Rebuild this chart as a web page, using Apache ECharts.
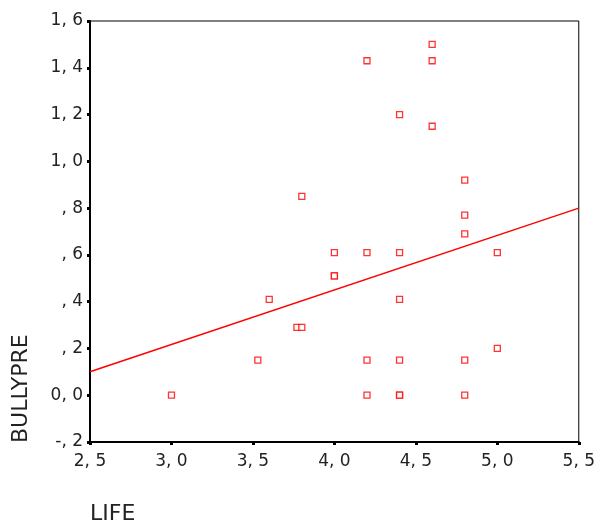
<!DOCTYPE html>
<html>
<head>
<meta charset="utf-8">
<script src="https://cdn.jsdelivr.net/npm/echarts@6/dist/echarts.min.js"></script>
<style>
  html, body { margin: 0; padding: 0; background: #fff; }
  #main { width: 598px; height: 525px; }
</style>
</head>
<body>
<div id="main"></div>
<script>
// LIFE (x) and BULLYPRE (y) for each case
var lifeValues  = [4.6, 4.2, 4.6, 4.4, 4.6, 4.8, 3.8, 4.8, 4.8, 4.0, 4.2, 4.4, 5.0, 4.0, 4.0,
                   3.6, 4.4, 3.77, 3.8, 3.53, 4.2, 4.4, 4.8, 5.0, 3.0, 4.2, 4.4, 4.4, 4.8];
var bullyValues = [1.50, 1.43, 1.43, 1.20, 1.15, 0.92, 0.85, 0.77, 0.69, 0.61, 0.61, 0.61, 0.61, 0.51, 0.51,
                   0.41, 0.41, 0.29, 0.29, 0.15, 0.15, 0.15, 0.15, 0.20, 0.00, 0.00, 0.00, 0.00, 0.00];
// fitted line, read at both ends of the x axis
var fitX = [2.5, 5.5];
var fitY = [0.10, 0.80];

var xTicks = { min: 2.5, max: 5.5, step: 0.5 };
var yTicks = { min: -0.2, max: 1.6, step: 0.2 };

function spssNum(v) {
  var s = Math.abs(v).toFixed(1).split(".");
  var i = s[0];
  if (i === "0" && Math.abs(v) > 1e-9) i = "";
  return (v < -1e-9 ? "-" : "") + i + ", " + s[1];
}

var points = [];
for (var i = 0; i < lifeValues.length; i++) {
  points.push([lifeValues[i], bullyValues[i]]);
}
var fitLine = [];
for (var j = 0; j < fitX.length; j++) {
  fitLine.push([fitX[j], fitY[j]]);
}

var labelStyle = {
  color: "#222",
  fontFamily: "DejaVu Sans",
  fontSize: 17
};

var chart = echarts.init(document.getElementById("main"));
chart.setOption({
  animation: false,
  backgroundColor: "#fff",
  grid: {
    left: 90, top: 21, right: 19, bottom: 83,
    show: true,
    borderColor: "#000",
    borderWidth: 1
  },
  xAxis: {
    type: "value",
    min: xTicks.min, max: xTicks.max, interval: xTicks.step,
    splitLine: { show: false },
    axisLine: { onZero: false, lineStyle: { color: "#000", width: 2 } },
    axisTick: { show: true, length: 3, lineStyle: { color: "#000", width: 3 } },
    axisLabel: Object.assign({ margin: 11, formatter: spssNum }, labelStyle)
  },
  yAxis: {
    type: "value",
    min: yTicks.min, max: yTicks.max, interval: yTicks.step,
    splitLine: { show: false },
    axisLine: { onZero: false, lineStyle: { color: "#000", width: 2 } },
    axisTick: { show: true, length: 3, lineStyle: { color: "#000", width: 3 } },
    axisLabel: Object.assign({ margin: 7, formatter: spssNum }, labelStyle)
  },
  graphic: [
    {
      type: "text",
      x: 21, y: 443,
      rotation: Math.PI / 2,
      style: {
        text: "BULLYPRE",
        fill: "#222",
        font: "22px DejaVu Sans",
        align: "left",
        verticalAlign: "middle"
      }
    },
    {
      type: "text",
      x: 90, y: 514,
      style: {
        text: "LIFE",
        fill: "#222",
        font: "22px DejaVu Sans",
        align: "left",
        verticalAlign: "middle"
      }
    }
  ],
  series: [
    {
      type: "line",
      data: fitLine,
      showSymbol: false,
      symbol: "none",
      lineStyle: { color: "#ff0000", width: 1.5 },
      z: 2
    },
    {
      type: "scatter",
      data: points,
      symbol: "rect",
      symbolSize: 6,
      itemStyle: { color: "#fff", borderColor: "#ff0000", borderWidth: 1.3 },
      z: 3
    }
  ]
});
</script>
</body>
</html>
